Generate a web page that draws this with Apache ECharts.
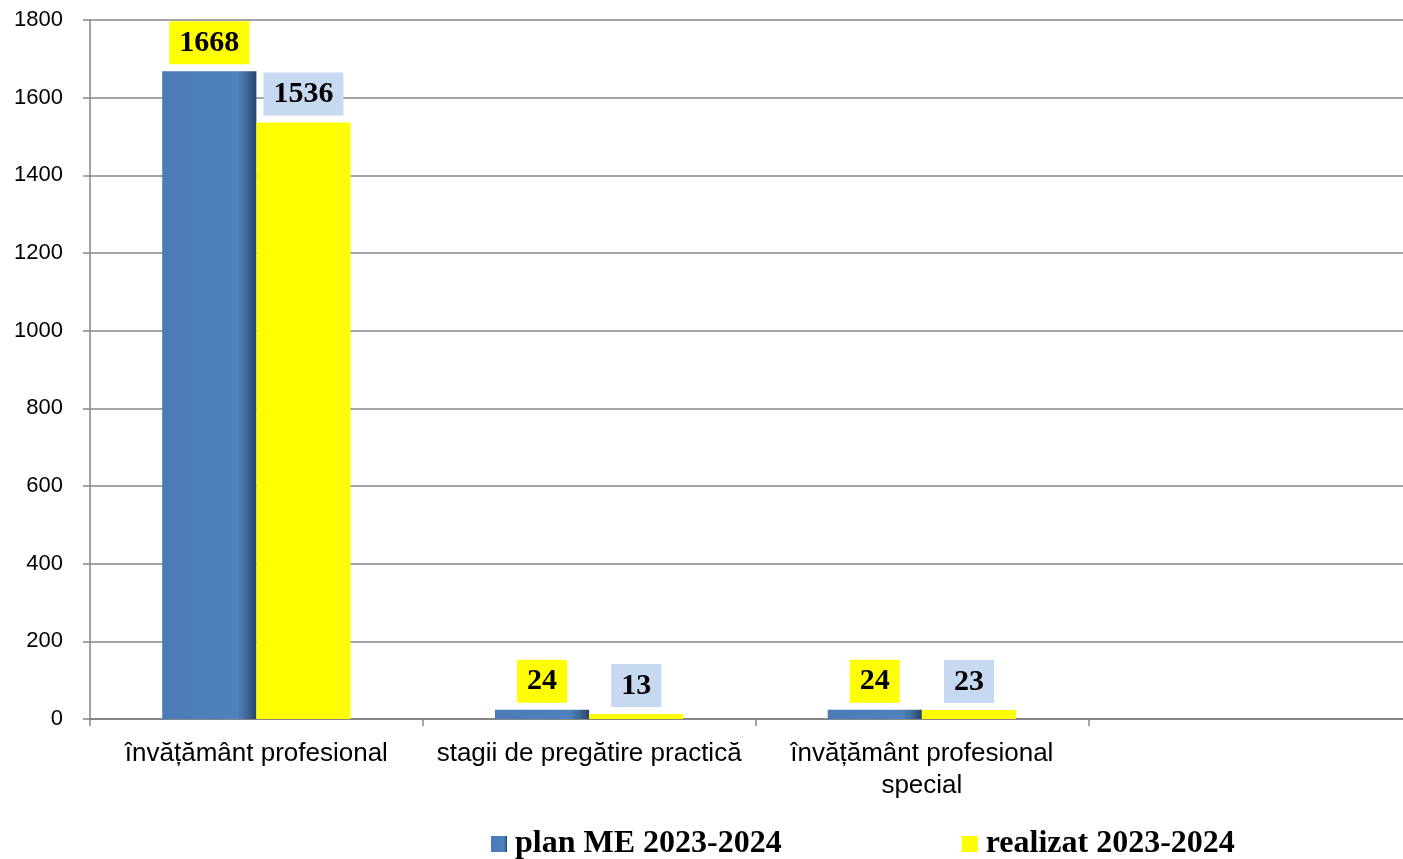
<!DOCTYPE html>
<html>
<head>
<meta charset="utf-8">
<script src="https://cdn.jsdelivr.net/npm/echarts@6/dist/echarts.min.js"></script>
<style>
html,body{margin:0;padding:0;background:#fff;overflow:hidden;}
#chart{width:1421px;height:859px;}
</style>
</head>
<body>
<div id="chart"></div>
<script>
var categories = ['învățământ profesional', 'stagii de pregătire practică', 'învățământ profesional\nspecial', ''];
var planValues = [1668, 24, 24];
var realizatValues = [1536, 13, 23];
var seriesNames = ['plan ME 2023-2024', 'realizat 2023-2024'];
var yTicks = { min: 0, max: 1800, interval: 200 };

var chart = echarts.init(document.getElementById('chart'), null, { renderer: 'canvas' });
var grey = '#868686';
var labelFont = { fontFamily: 'Liberation Serif', fontWeight: 'bold', fontSize: 30, color: '#000' };

chart.setOption({
  animation: false,
  backgroundColor: '#fff',
  grid: { left: 90, top: 20, bottom: 140, right: 0, containLabel: false },
  legend: {
    data: [seriesNames[0], seriesNames[1]],
    left: 486,
    top: 823,
    icon: 'rect',
    itemWidth: 16,
    itemHeight: 16,
    itemGap: 180,
    textStyle: { fontFamily: 'Liberation Serif', fontWeight: 'bold', fontSize: 32, color: '#000', padding: [0, 0, 0, 3] }
  },
  xAxis: {
    type: 'category',
    data: categories,
    axisLine: { lineStyle: { color: grey, width: 2 } },
    axisTick: { show: true, length: 7, lineStyle: { color: grey, width: 1.5 } },
    axisLabel: { fontFamily: 'Liberation Sans', fontSize: 26, color: '#000', margin: 19, lineHeight: 32, interval: 0 }
  },
  yAxis: {
    type: 'value',
    min: yTicks.min,
    max: yTicks.max,
    interval: yTicks.interval,
    axisLine: { show: true, lineStyle: { color: grey, width: 1.5 } },
    axisTick: { show: true, length: 7, lineStyle: { color: grey, width: 1.5 } },
    splitLine: { lineStyle: { color: grey, width: 1.5 } },
    axisLabel: { fontFamily: 'Liberation Sans', fontSize: 22, color: '#000', margin: 27, formatter: function (v) { return String(v); } }
  },
  series: [
    {
      name: seriesNames[0],
      type: 'bar',
      data: planValues,
      barGap: '0%',
      barCategoryGap: '43.4%',
      itemStyle: {
        color: new echarts.graphic.LinearGradient(0, 0, 1, 0, [
          { offset: 0, color: '#4a7bb7' },
          { offset: 0.8, color: '#4f81bd' },
          { offset: 0.9, color: '#3f6898' },
          { offset: 1, color: '#274566' }
        ])
      },
      label: Object.assign({
        show: true, position: 'top', distance: 7,
        backgroundColor: '#ffff00', padding: [7, 10, 6, 10]
      }, labelFont)
    },
    {
      name: seriesNames[1],
      type: 'bar',
      data: realizatValues,
      barGap: '0%',
      barCategoryGap: '43.4%',
      itemStyle: { color: '#ffff00' },
      label: Object.assign({
        show: true, position: 'top', distance: 7,
        backgroundColor: '#c6d9f1', padding: [7, 10, 6, 10]
      }, labelFont)
    }
  ]
});
</script>
</body>
</html>
